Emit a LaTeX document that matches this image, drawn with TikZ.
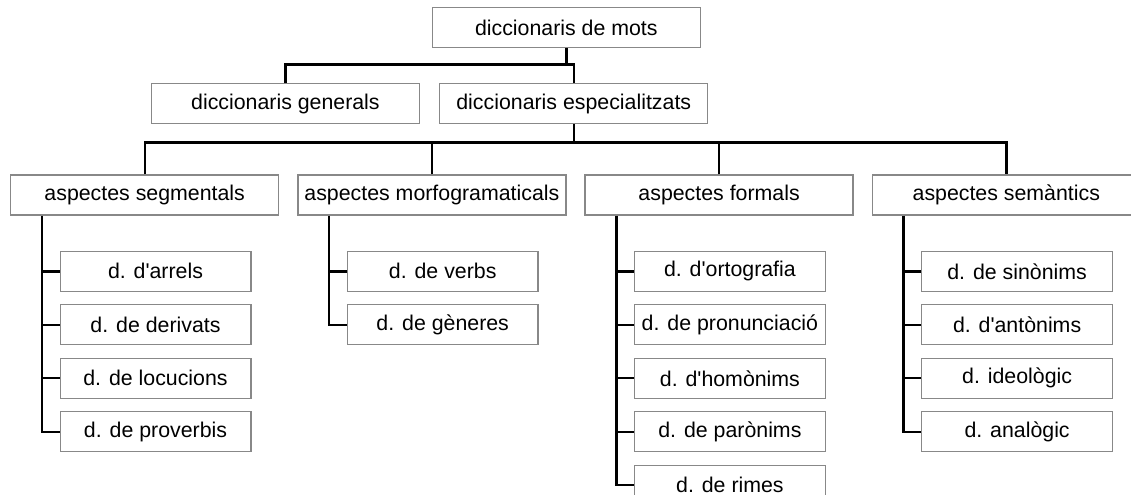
\documentclass[tikz,border=0pt]{standalone}
\usepackage{fontspec}
\setmainfont{Liberation Sans}
\usetikzlibrary{positioning}
\definecolor{boxgray}{RGB}{136,136,136}

\begin{document}
\begin{tikzpicture}[x=0.75pt,y=-0.75pt,node distance=9.1pt,
        font=\fontsize{16}{19}\selectfont,
        box/.style={draw=boxgray,line width=1pt,minimum width=201pt,minimum height=30pt,inner sep=2pt},
        leaf/.style={box,minimum width=143pt},
        link/.style={line width=1.8pt}]
            \useasboundingbox (0,0) rectangle (1131,495);
            \node[box] (top) at (566.3,27.5) {diccionaris de mots};
            \node[box] (esp) [below=26.25pt of top,xshift=5.6pt] {diccionaris especialitzats};
            \node[box] (gen) [left=14.25pt of esp] {diccionaris generals};
            \node[box] (seg) at (144.7,195) {aspectes segmentals};
            \node[box] (mor) [right=13.4pt of seg] {aspectes morfogramaticals};
            \node[box] (for) [right=13.4pt of mor] {aspectes formals};
            \node[box] (sem) [right=13.4pt of for] {aspectes semàntics};
            \node[leaf] (s1) [below=26.25pt of seg,xshift=8.1pt] {d. d\textquotesingle arrels};
            \node[leaf] (s2) [below=of s1] {d. de derivats};
            \node[leaf] (s3) [below=of s2] {d. de locucions};
            \node[leaf] (s4) [below=of s3] {d. de proverbis};
            \node[leaf] (v1) [below=26.25pt of mor,xshift=8.1pt] {d. de verbs};
            \node[leaf] (v2) [below=of v1] {d. de gèneres};
            \node[leaf] (f1) [below=26.25pt of for,xshift=8.1pt] {d. d\textquotesingle ortografia};
            \node[leaf] (f2) [below=of f1] {d. de pronunciació};
            \node[leaf] (f3) [below=of f2] {d. d\textquotesingle homònims};
            \node[leaf] (f4) [below=of f3] {d. de parònims};
            \node[leaf] (f5) [below=of f4] {d. de rimes};
            \node[leaf] (m1) [below=26.25pt of sem,xshift=8.1pt] {d. de sinònims};
            \node[leaf] (m2) [below=of m1] {d. d\textquotesingle antònims};
            \node[leaf] (m3) [below=of m2] {d. ideològic};
            \node[leaf] (m4) [below=of m3] {d. analògic};
            \draw[link] (top.south) -- ++(0,16.3) coordinate (j1);
            \draw[link] (gen.north) |- (j1) -| (esp.north);
            \draw[link] (esp.south) -- ++(0,18) coordinate (j2);
            \draw[link] (seg.north) |- (j2) -| (sem.north);
            \draw[link] (mor.north) -- (mor.north |- j2);
            \draw[link] (for.north) -- (for.north |- j2);
            \coordinate (sa) at ([xshift=24pt]seg.south west);
            \coordinate (va) at ([xshift=24pt]mor.south west);
            \coordinate (fa) at ([xshift=24pt]for.south west);
            \coordinate (ma) at ([xshift=24pt]sem.south west);
            \draw[link] (sa) |- (s4.west);
            \draw[link] (s1.west) -- (s1.west -| sa);
            \draw[link] (s2.west) -- (s2.west -| sa);
            \draw[link] (s3.west) -- (s3.west -| sa);
            \draw[link] (va) |- (v2.west);
            \draw[link] (v1.west) -- (v1.west -| va);
            \draw[link] (fa) |- (f5.west);
            \draw[link] (f1.west) -- (f1.west -| fa);
            \draw[link] (f2.west) -- (f2.west -| fa);
            \draw[link] (f3.west) -- (f3.west -| fa);
            \draw[link] (f4.west) -- (f4.west -| fa);
            \draw[link] (ma) |- (m4.west);
            \draw[link] (m1.west) -- (m1.west -| ma);
            \draw[link] (m2.west) -- (m2.west -| ma);
            \draw[link] (m3.west) -- (m3.west -| ma);
        \end{tikzpicture}
\end{document}
